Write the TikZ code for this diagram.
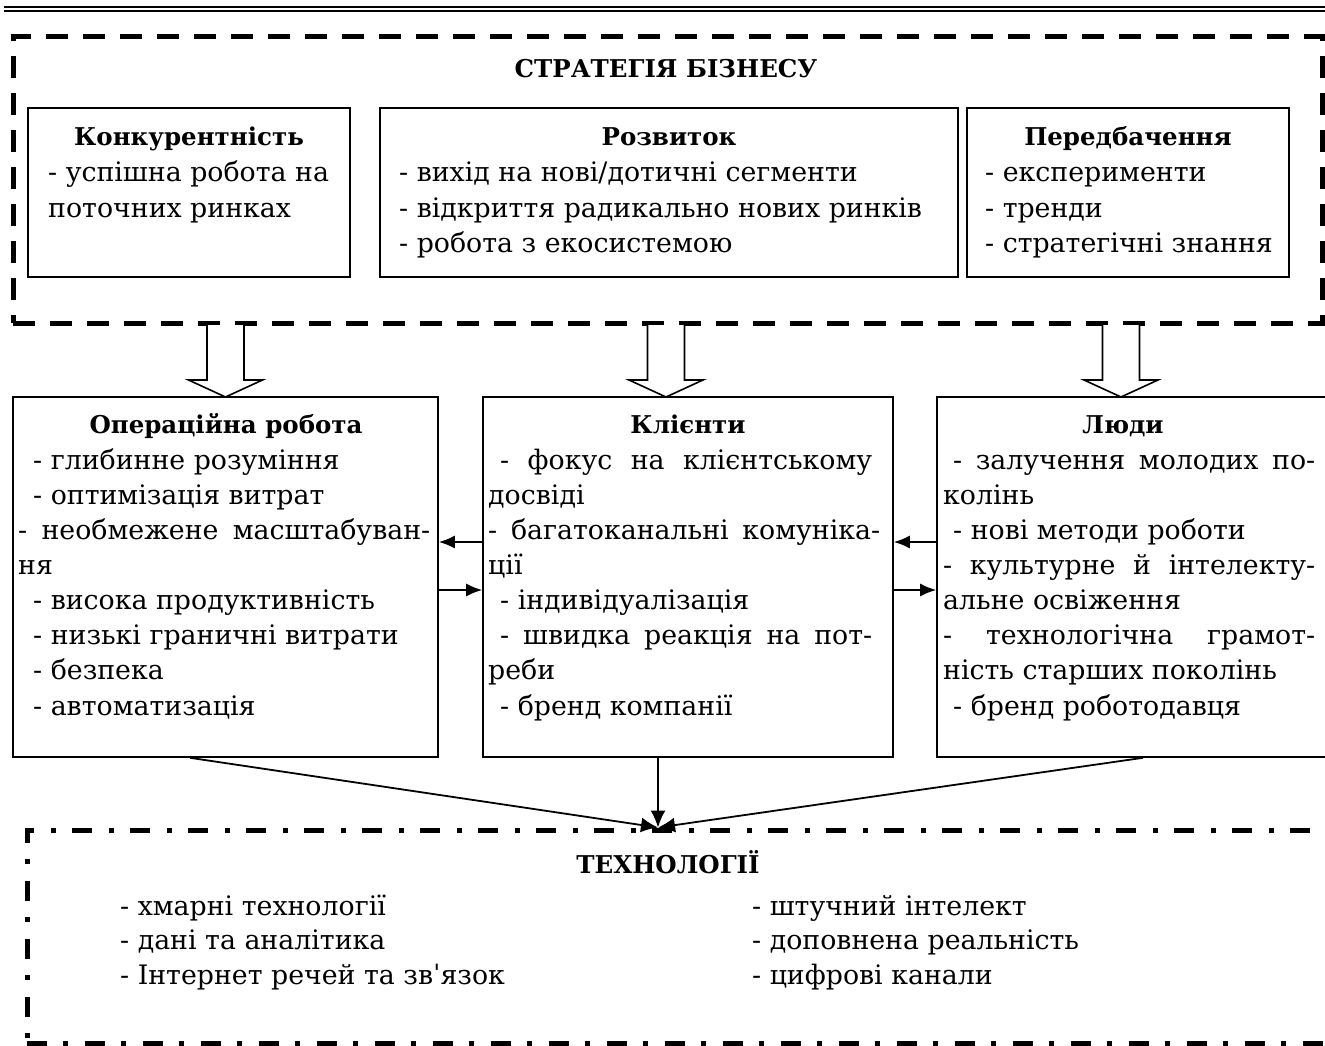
\documentclass[tikz,border=0pt]{standalone}
\usepackage{fontspec}
\setmainfont{DejaVu Serif}
\usetikzlibrary{arrows.meta}
\newcommand\hollowarrow[1]{%
  \fill[white] (#1-18.5,325) -- (#1-18.5,380) -- (#1-37,380) -- (#1,397) -- (#1+37,380) -- (#1+18.5,380) -- (#1+18.5,325) -- cycle;
  \draw[line width=1.6pt, line join=miter] (#1-18.5,325) -- (#1-18.5,380) -- (#1-37,380) -- (#1,397) -- (#1+37,380) -- (#1+18.5,380) -- (#1+18.5,325);}
\newcommand\jl[2]{\makebox[#1pt][s]{#2}}
\begin{document}
\begin{tikzpicture}[x=1pt,y=-1pt,
  boxn/.style={draw, line width=1.6pt, rectangle, inner sep=0pt},
  txt/.style={anchor=base west, inner sep=0pt, font=\fontsize{26.8}{30}\selectfont},
  ttl/.style={anchor=base, inner sep=0pt, font=\fontsize{24.5}{30}\selectfont\bfseries},
  arr/.style={line width=1.8pt, -{Latex[length=16pt,width=13pt]}},
  arrb/.style={line width=1.8pt, -{Latex[length=17pt,width=15pt]}},
  stratframe/.style={draw, rectangle, inner sep=0pt, line width=5pt, dash pattern=on 22pt off 15pt},
  techframe/.style={draw, rectangle, inner sep=0pt, line width=5pt, dash pattern=on 20pt off 16pt on 5pt off 17pt}]
\useasboundingbox (0,0) rectangle (1325,1046);
% top double rule
\draw[line width=2.8pt] (4,7) -- (1325,7);
\draw[line width=1.2pt] (4,11) -- (1325,11);

% strategy frame
\node[stratframe, minimum width=1309pt, minimum height=286pt] (strat) at (667.5,180) {};
\node[ttl] (strattitle) at (666,78) {СТРАТЕГІЯ БІЗНЕСУ};

\node[boxn, minimum width=322pt, minimum height=169pt] (kon) at (189,192.5) {};
\node[boxn, minimum width=578pt, minimum height=169pt] (ros) at (669,192.5) {};
\node[boxn, minimum width=322pt, minimum height=169pt] (per) at (1128,192.5) {};

\node[ttl] (kont) at (189,146) {Конкурентність};
\node[txt] (kon1) at (48,182) {- успішна робота на};
\node[txt] (kon2) at (48,217) {поточних ринках};

\node[ttl] (rost) at (669,146) {Розвиток};
\node[txt] (ros1) at (399,182) {- вихід на нові/дотичні сегменти};
\node[txt] (ros2) at (399,217) {- відкриття радикально нових ринків};
\node[txt] (ros3) at (399,252) {- робота з екосистемою};

\node[ttl] (pert) at (1128,146) {Передбачення};
\node[txt] (per1) at (985,182) {- експерименти};
\node[txt] (per2) at (985,217) {- тренди};
\node[txt] (per3) at (985,252) {- стратегічні знання};

% hollow arrows
\hollowarrow{225.5}
\hollowarrow{666}
\hollowarrow{1121}

% middle boxes
\node[boxn, minimum width=425pt, minimum height=360pt] (ops) at (225.5,577) {};
\node[boxn, minimum width=410pt, minimum height=360pt] (cli) at (688,577) {};
\node[boxn, minimum width=403pt, minimum height=360pt] (ppl) at (1138.5,577) {};

\node[ttl] (opst) at (226,433) {Операційна робота};
\node[txt] (ops1) at (33,469) {- глибинне розуміння};
\node[txt] (ops2) at (33,504) {- оптимізація витрат};
\node[txt] (ops3) at (18,539) {\jl{412}{- необмежене масштабуван-}};
\node[txt] (ops4) at (18,574) {ня};
\node[txt] (ops5) at (33,609) {- висока продуктивність};
\node[txt] (ops6) at (33,644) {- низькі граничні витрати};
\node[txt] (ops7) at (33,679) {- безпека};
\node[txt] (ops8) at (33,715) {- автоматизація};

\node[ttl] (clit) at (688,433) {Клієнти};
\node[txt] (cli1) at (500,469) {\jl{372}{- фокус на клієнтському}};
\node[txt] (cli2) at (488,504) {досвіді};
\node[txt] (cli3) at (488,539) {\jl{392}{- багатоканальні комуніка-}};
\node[txt] (cli4) at (488,574) {ції};
\node[txt] (cli5) at (500,609) {- індивідуалізація};
\node[txt] (cli6) at (500,644) {\jl{372}{- швидка реакція на пот-}};
\node[txt] (cli7) at (488,679) {реби};
\node[txt] (cli8) at (500,715) {- бренд компанії};

\node[ttl] (pplt) at (1123,433) {Люди};
\node[txt] (ppl1) at (953,469) {\jl{362}{- залучення молодих по-}};
\node[txt] (ppl2) at (943,504) {колінь};
\node[txt] (ppl3) at (953,539) {- нові методи роботи};
\node[txt] (ppl4) at (943,574) {\jl{372}{- культурне й інтелекту-}};
\node[txt] (ppl5) at (943,609) {альне освіження};
\node[txt] (ppl6) at (943,644) {\jl{372}{- технологічна грамот-}};
\node[txt] (ppl7) at (943,679) {ність старших поколінь};
\node[txt] (ppl8) at (953,715) {- бренд роботодавця};

% horizontal arrows
\draw[arr] ([yshift=35pt]cli.west) -- ([yshift=35pt]ops.east);
\draw[arr] ([yshift=-13pt]ops.east) -- ([yshift=-13pt]cli.west);
\draw[arr] ([yshift=35pt]ppl.west) -- ([yshift=35pt]cli.east);
\draw[arr] ([yshift=-13pt]cli.east) -- ([yshift=-13pt]ppl.west);

% technology frame
\node[techframe, minimum width=1318pt, minimum height=213pt] (tech) at (686,936.5) {};
\coordinate (conv) at ([xshift=-28pt]tech.north);
\node[ttl] (techt) at (668,873) {ТЕХНОЛОГІЇ};
\node[txt] (t1) at (120,915) {- хмарні технології};
\node[txt] (t2) at (120,949) {- дані та аналітика};
\node[txt] (t3) at (120,984) {- Інтернет речей та зв{ˈ}язок};
\node[txt] (t4) at (752,915) {- штучний інтелект};
\node[txt] (t5) at (752,949) {- доповнена реальність};
\node[txt] (t6) at (752,984) {- цифрові канали};

\draw[arrb] ([xshift=-35.5pt]ops.south) -- (conv);
\draw[arrb] (conv |- cli.south) -- (conv);
\draw[arrb] ([xshift=4.5pt]ppl.south) -- (conv);
\end{tikzpicture}
\end{document}
